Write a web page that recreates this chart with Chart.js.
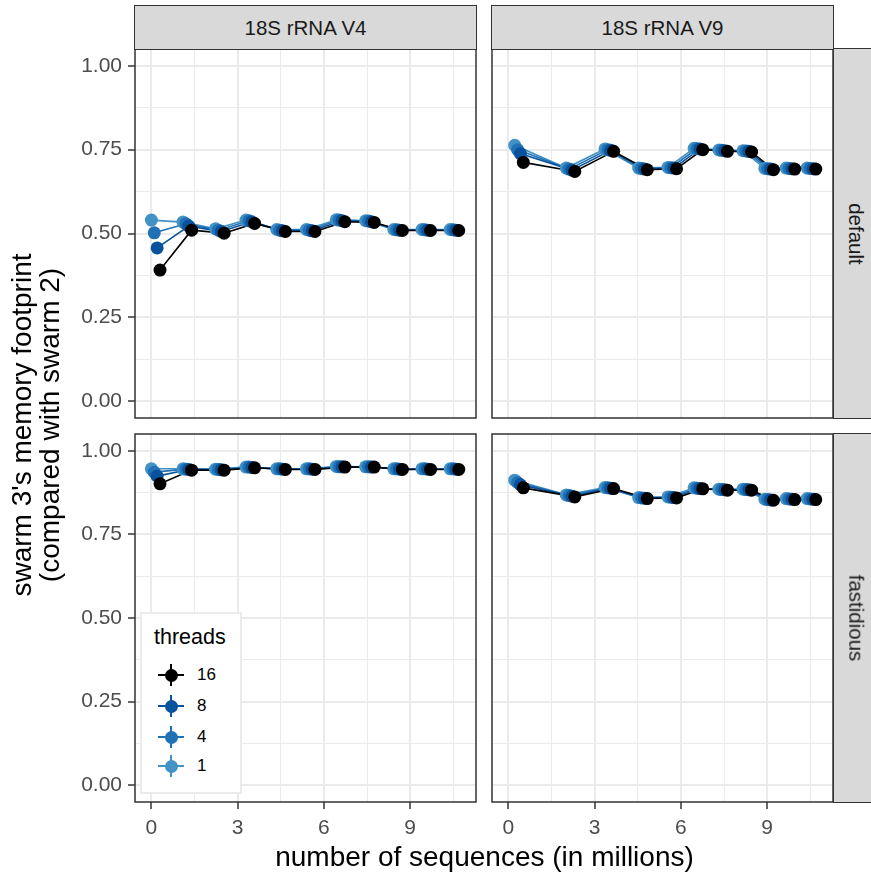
<!DOCTYPE html>
<html lang="en">
<head>
  <meta charset="UTF-8">
  <title>swarm 3 memory footprint</title>
  <style>
    body {
      margin: 0;
      background: #fff;
      font-family: 'Liberation Sans', Arial, sans-serif;
    }
    #wrap {
      position: relative;
      width: 871px;
      height: 874px;
      overflow: hidden;
    }
    #wrap canvas {
      position: absolute;
      left: 0;
      top: 0;
    }
    .strip {
      position: absolute;
      box-sizing: border-box;
      background: #d9d9d9;
      border: 1.5px solid #333;
      color: #1a1a1a;
      font-size: 20.5px;
      display: flex;
      align-items: center;
      justify-content: center;
    }
    .strip.side span {
      transform: rotate(90deg);
      white-space: nowrap;
    }
    .axis-title {
      position: absolute;
      color: #000;
      font-size: 28px;
      white-space: nowrap;
      text-align: center;
    }
    #legend {
      position: absolute;
      left: 140px;
      top: 612px;
      width: 102px;
      height: 182px;
      box-sizing: border-box;
      border: 2.5px solid #ebebeb;
      background: #fff;
    }
    #legend .title {
      position: absolute;
      left: 12px;
      top: 11px;
      font-size: 21.5px;
      color: #000;
    }
    .key {
      position: absolute;
      left: 16px;
      width: 26px;
      height: 22px;
    }
    .key .h { position: absolute; left: 0; top: 10px; width: 26px; height: 2px; }
    .key .v { position: absolute; left: 12px; top: 0; width: 2px; height: 22px; }
    .key .dot { position: absolute; left: 6.5px; top: 4.5px; width: 13px; height: 13px; border-radius: 50%; }
    .key-label {
      position: absolute;
      left: 55px;
      font-size: 17px;
      color: #000;
    }
  </style>
</head>
<body>
  <div id="wrap">
    <canvas id="c-v4-def" width="871" height="874"></canvas>
    <canvas id="c-v9-def" width="871" height="874"></canvas>
    <canvas id="c-v4-fas" width="871" height="874"></canvas>
    <canvas id="c-v9-fas" width="871" height="874"></canvas>

    <div class="strip" style="left:134px; top:5px; width:343px; height:45px;">18S rRNA V4</div>
    <div class="strip" style="left:491px; top:5px; width:343px; height:45px;">18S rRNA V9</div>
    <div class="strip side" style="left:833px; top:48px; width:46px; height:371px;"><span>default</span></div>
    <div class="strip side" style="left:833px; top:433px; width:46px; height:370px;"><span>fastidious</span></div>

    <div class="axis-title" style="left:0; width:969px; top:841px;">number of sequences (in millions)</div>
    <div class="axis-title" style="left:36px; top:425px; width:0; height:0;">
      <div style="position:absolute; left:-250px; top:-28px; width:500px; line-height:28px; transform:rotate(-90deg);">swarm 3's memory footprint<br>(compared with swarm 2)</div>
    </div>

    <div id="legend">
      <div class="title">threads</div>
    </div>
  </div>

  <script src="https://cdn.jsdelivr.net/npm/chart.js"></script>
  <script>
    // thread counts, in legend order
    const threads = ['16', '8', '4', '1'];

    // sample sizes (millions of sequences), group centres before dodging
    const xV4 = [0.15, 1.25, 2.38, 3.44, 4.51, 5.54, 6.58, 7.60, 8.58, 9.56, 10.54];
    const xV9 = [0.37, 2.16, 3.51, 4.68, 5.70, 6.61, 7.47, 8.31, 9.07, 9.81, 10.54];

    // 18S rRNA V4, default
    const v4Def16 = [0.391, 0.510, 0.501, 0.530, 0.506, 0.506, 0.535, 0.533, 0.509, 0.509, 0.509];
    const v4Def8  = [0.457, 0.522, 0.506, 0.535, 0.508, 0.508, 0.538, 0.535, 0.510, 0.510, 0.510];
    const v4Def4  = [0.502, 0.529, 0.510, 0.538, 0.510, 0.510, 0.540, 0.537, 0.511, 0.511, 0.511];
    const v4Def1  = [0.540, 0.534, 0.514, 0.540, 0.512, 0.512, 0.541, 0.538, 0.512, 0.512, 0.512];

    // 18S rRNA V9, default
    const v9Def16 = [0.712, 0.685, 0.745, 0.690, 0.693, 0.750, 0.745, 0.743, 0.690, 0.692, 0.692];
    const v9Def8  = [0.738, 0.689, 0.748, 0.692, 0.695, 0.752, 0.747, 0.745, 0.692, 0.693, 0.693];
    const v9Def4  = [0.750, 0.692, 0.750, 0.694, 0.696, 0.753, 0.748, 0.746, 0.693, 0.694, 0.694];
    const v9Def1  = [0.763, 0.695, 0.752, 0.695, 0.697, 0.754, 0.749, 0.747, 0.694, 0.695, 0.695];

    // 18S rRNA V4, fastidious
    const v4Fas16 = [0.901, 0.942, 0.942, 0.949, 0.944, 0.944, 0.951, 0.951, 0.944, 0.944, 0.944];
    const v4Fas8  = [0.924, 0.944, 0.943, 0.950, 0.945, 0.945, 0.952, 0.951, 0.945, 0.945, 0.945];
    const v4Fas4  = [0.936, 0.945, 0.944, 0.951, 0.946, 0.946, 0.952, 0.952, 0.946, 0.946, 0.946];
    const v4Fas1  = [0.946, 0.946, 0.945, 0.951, 0.946, 0.946, 0.953, 0.952, 0.946, 0.946, 0.946];

    // 18S rRNA V9, fastidious
    const v9Fas16 = [0.889, 0.862, 0.887, 0.857, 0.859, 0.886, 0.882, 0.882, 0.852, 0.854, 0.854];
    const v9Fas8  = [0.898, 0.864, 0.888, 0.858, 0.860, 0.887, 0.883, 0.883, 0.853, 0.855, 0.855];
    const v9Fas4  = [0.905, 0.866, 0.889, 0.859, 0.861, 0.888, 0.884, 0.884, 0.854, 0.856, 0.856];
    const v9Fas1  = [0.912, 0.868, 0.890, 0.860, 0.862, 0.889, 0.885, 0.885, 0.855, 0.857, 0.857];

    const xTicks = [0, 1.5, 3, 4.5, 6, 7.5, 9, 10.5];
    const yTicks = [0, 0.125, 0.25, 0.375, 0.5, 0.625, 0.75, 0.875, 1];

    const colors = { '16': '#000000', '8': '#08519c', '4': '#2171b5', '1': '#4292c6' };
    const dodge = { '16': 0.15, '8': 0.05, '4': -0.05, '1': -0.15 };

    Chart.defaults.font.family = "'Liberation Sans', Arial, sans-serif";

    // panel rectangles in page pixels
    const W = 871, H = 874;
    const panels = {
      'c-v4-def': { l: 135, t: 49, r: 476, b: 418, left: true,  bottom: false, x: xV4, ys: [v4Def16, v4Def8, v4Def4, v4Def1] },
      'c-v9-def': { l: 492, t: 49, r: 833, b: 418, left: false, bottom: false, x: xV9, ys: [v9Def16, v9Def8, v9Def4, v9Def1] },
      'c-v4-fas': { l: 135, t: 434, r: 476, b: 802, left: true,  bottom: true,  x: xV4, ys: [v4Fas16, v4Fas8, v4Fas4, v4Fas1] },
      'c-v9-fas': { l: 492, t: 434, r: 833, b: 802, left: false, bottom: true,  x: xV9, ys: [v9Fas16, v9Fas8, v9Fas4, v9Fas1] }
    };

    const panelBorder = {
      id: 'panelBorder',
      afterDatasetsDraw(chart) {
        const a = chart.chartArea;
        const ctx = chart.ctx;
        ctx.save();
        ctx.strokeStyle = '#333333';
        ctx.lineWidth = 1.5;
        ctx.strokeRect(a.left, a.top, a.right - a.left, a.bottom - a.top);
        ctx.restore();
      }
    };

    const isMajor = (v, step) => Math.abs(v / step - Math.round(v / step)) < 1e-6;

    Object.keys(panels).forEach(id => {
      const p = panels[id];
      const yW = p.left ? 70 : 0;
      const xH = p.bottom ? 45 : 0;

      const lineSets = [];
      const pointSets = [];
      threads.forEach((th, i) => {
        const pts = p.x.map((x, j) => ({ x: x + dodge[th], y: p.ys[i][j] }));
        lineSets.push({
          data: pts, showLine: true, borderColor: colors[th], borderWidth: 1.6,
          pointRadius: 0, order: 10 + i
        });
        pointSets.push({
          data: pts, showLine: false, backgroundColor: colors[th], borderWidth: 0,
          pointRadius: 6.5, order: i
        });
      });

      new Chart(document.getElementById(id), {
        type: 'scatter',
        data: { datasets: lineSets.concat(pointSets) },
        options: {
          responsive: false,
          animation: false,
          events: [],
          layout: {
            padding: { left: p.l - yW, right: W - p.r, top: p.t, bottom: H - p.b - xH }
          },
          plugins: { legend: { display: false }, tooltip: { enabled: false } },
          scales: {
            x: {
              type: 'linear', min: -0.57, max: 11.29,
              afterBuildTicks: s => { s.ticks = xTicks.map(v => ({ value: v })); },
              afterFit: s => { s.height = xH; },
              border: { display: false },
              grid: {
                color: '#ebebeb',
                lineWidth: c => isMajor(c.tick.value, 3) ? 2 : 1,
                drawTicks: p.bottom,
                tickLength: 7,
                tickWidth: 1.5,
                tickColor: c => isMajor(c.tick.value, 3) ? '#333333' : 'rgba(0,0,0,0)'
              },
              ticks: {
                display: p.bottom,
                autoSkip: false,
                maxRotation: 0,
                padding: 7,
                color: '#4d4d4d',
                font: { size: 21 },
                callback: v => isMajor(v, 3) ? String(v) : ''
              }
            },
            y: {
              type: 'linear', min: -0.05, max: 1.05,
              afterBuildTicks: s => { s.ticks = yTicks.map(v => ({ value: v })); },
              afterFit: s => { s.width = yW; },
              border: { display: false },
              grid: {
                color: '#ebebeb',
                lineWidth: c => isMajor(c.tick.value, 0.25) ? 2 : 1,
                drawTicks: p.left,
                tickLength: 7,
                tickWidth: 1.5,
                tickColor: c => isMajor(c.tick.value, 0.25) ? '#333333' : 'rgba(0,0,0,0)'
              },
              ticks: {
                display: p.left,
                autoSkip: false,
                padding: 6,
                color: '#4d4d4d',
                font: { size: 21 },
                callback: v => isMajor(v, 0.25) ? v.toFixed(2) : ''
              }
            }
          }
        },
        plugins: [panelBorder]
      });
    });

    // legend (pointrange keys)
    const legendBox = document.getElementById('legend');
    const keyTops = [50, 81, 112, 141];
    threads.forEach((th, i) => {
      const key = document.createElement('div');
      key.className = 'key';
      key.style.top = keyTops[i] + 'px';
      key.innerHTML = '<div class="h"></div><div class="v"></div><div class="dot"></div>';
      key.querySelectorAll('div').forEach(d => { d.style.background = colors[th]; });
      legendBox.appendChild(key);

      const lab = document.createElement('div');
      lab.className = 'key-label';
      lab.style.top = (keyTops[i] + 1) + 'px';
      lab.textContent = th;
      legendBox.appendChild(lab);
    });
  </script>
</body>
</html>
